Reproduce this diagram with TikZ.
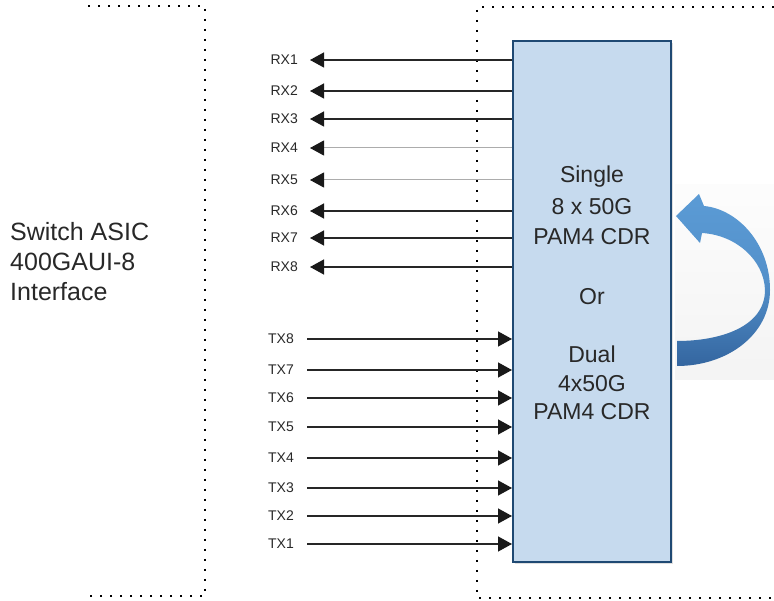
\documentclass[tikz,border=0pt]{standalone}
\usepackage{fontspec}
\setmainfont{Liberation Sans}
\usetikzlibrary{arrows.meta,shadows}
\definecolor{boxfill}{RGB}{198,218,238}
\definecolor{boxedge}{RGB}{31,73,115}
\definecolor{arrowtop}{RGB}{91,155,213}
\definecolor{arrowbot}{RGB}{52,102,160}
\definecolor{txt}{RGB}{40,40,40}
\begin{document}
\begin{tikzpicture}[x=1pt,y=-1pt,
  tip/.style={-{Triangle[length=14pt,width=15pt,color=black!90]}},
  sig/.style={tip, draw=black!85, line width=1.3pt},
  sigfaint/.style={tip, draw=gray!65, line width=1pt},
  lbl/.style={font=\fontsize{14}{14}\selectfont, text=txt, inner ysep=0pt},
  boxtxt/.style={font=\fontsize{23}{23}\selectfont, text=txt},
  dots/.style={line width=1.8pt, dash pattern=on 1.8pt off 8.2pt}
]
\useasboundingbox (0,0) rectangle (774,601);

% background behind the curved arrow
\shade[top color=gray!2, bottom color=gray!9] (675,185) rectangle (774,380);

% dotted enclosures
\draw[dots] (88,6) -- (205,6) -- (205,596) -- (85,596);
\draw[dots] (774,7) -- (477,7) -- (477,598) -- (774,598);

% CDR box
\node[draw=boxedge, fill=boxfill, line width=2pt, minimum width=158pt, minimum height=521pt,
      inner sep=0pt, drop shadow={shadow xshift=2pt, shadow yshift=-2pt, opacity=0.25}] (box) at (592,301.5) {};

\node[boxtxt] (t1) at (592,177) {Single};
\node[boxtxt] (t2) at (592,207) {8 x 50G};
\node[boxtxt] (t3) at (592,237) {PAM4 CDR};
\node[boxtxt] (t4) at (592,297) {Or};
\node[boxtxt] (t5) at (592,354) {Dual};
\node[boxtxt] (t6) at (592,384) {4x50G};
\node[boxtxt] (t7) at (592,412) {PAM4 CDR};

% switch ASIC text
\node[font=\fontsize{25}{30}\selectfont, text=txt, align=left, anchor=west, inner sep=0pt] (asic) at (10,262)
  {Switch ASIC\\400GAUI-8\\Interface};

% RX lanes
\foreach \i/\y/\s in {1/60/sig,2/91/sig,3/119/sig,4/148/sigfaint,5/180/sigfaint,6/211/sig,7/238/sig,8/267/sig}{
  \node[lbl, anchor=east, inner xsep=12pt] (rx\i) at (310,\y) {RX\i};
  \draw[\s] (box.west |- rx\i) -- (rx\i.east);
}

% TX lanes
\foreach \i/\y in {8/339,7/370,6/398,5/427,4/458,3/488,2/516,1/544}{
  \node[lbl, anchor=east, inner xsep=13pt] (tx\i) at (307,\y) {TX\i};
  \draw[sig] (tx\i.east) -- (box.west |- tx\i);
}

% curved arrow
\shade[top color=arrowtop, bottom color=arrowbot, middle color=arrowtop!80!arrowbot]
  (677,366) .. controls (727,366) and (770,335) .. (770,290)
  .. controls (770,243) and (737,209) .. (704,206)
  -- (699,194) -- (676,216) -- (700,243) -- (702,233)
  .. controls (736,235) and (764,260) .. (765,290)
  .. controls (765,327) and (720,341) .. (677,341) -- cycle;
\end{tikzpicture}
\end{document}
